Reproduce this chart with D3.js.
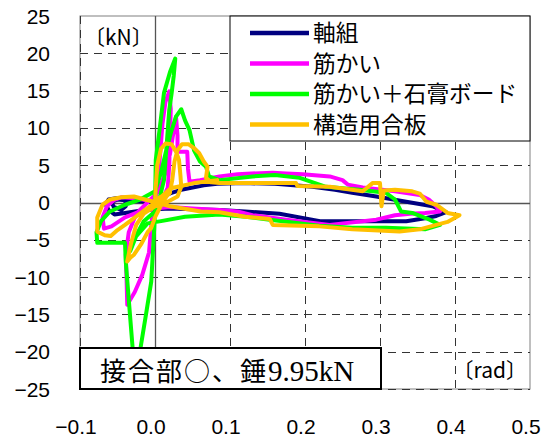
<!DOCTYPE html>
<html><head><meta charset="utf-8">
<script src="https://cdn.jsdelivr.net/npm/d3@7"></script>
<style>body{margin:0;background:#fff}</style>
</head><body><svg id="c" width="546" height="441"></svg>
<script>
// ---- data ----
const seriesNames = ["軸組", "筋かい", "筋かい＋石膏ボード", "構造用合板"];
const seriesColors = ["#000080", "#ff00ff", "#00ff00", "#ffc000"];
const xTicks = [-0.1, 0.0, 0.1, 0.2, 0.3, 0.4, 0.5];
const xTickLabels = ["−0.1", "0.0", "0.1", "0.2", "0.3", "0.4", "0.5"];
const yTicks = [-25, -20, -15, -10, -5, 0, 5, 10, 15, 20, 25];
const yTickLabels = ["−25", "−20", "−15", "−10", "−5", "0", "5", "10", "15", "20", "25"];
const yUnit = "〔kN〕";
const xUnit = "〔rad〕";
const noteJa = "接合部○、錘";
const noteNum = "9.95kN";

// [rad, kN]
const frameOnly = [
  [0,0],[0.005,0.4],[0.012,0.9],[0.022,1.3],[0.035,1.7],[0.05,2.0],[0.065,2.3],[0.083,2.5],[0.12,2.6],[0.16,2.5],
  [0.21,2.1],[0.24,1.7],[0.263,1.3],[0.295,0.8],[0.335,0.1],[0.37,-0.5],[0.388,-1.3],[0.375,-1.8],[0.36,-2.1],
  [0.335,-2.5],[0.3,-2.5],[0.22,-2.5],[0.166,-1.5],[0.12,-1.2],[0.086,-1.0],[0.05,-0.9],[0.02,-0.8],[0.0,-0.9],
  [-0.02,-1.1],[-0.04,-1.4],[-0.054,-1.6],[-0.062,-1.0],[-0.066,-0.2],[-0.062,0.4],[-0.05,0.6],[-0.04,0.5],
  [-0.039,-0.5],[-0.045,-1.0],[-0.055,-0.6],[-0.058,0.1],[-0.05,0.4],[-0.03,0.2],[-0.01,0.1],[0,0]
];
const brace = [
  [0,0],[0.002,1.5],[0.005,4],[0.008,8],[0.010,10.6],[0.014,13.5],[0.019,14.9],[0.021,12.5],[0.02,9],[0.019,5],
  [0.017,2],[0.01,0.5],[0.0,-0.5],[-0.004,-2],[-0.008,-6.7],[-0.017,-9.7],[-0.027,-12],[-0.037,-13.7],[-0.038,-10],
  [-0.039,-7],[-0.035,-4],[-0.025,-1.5],[-0.01,0],[0.005,1.5],[0.012,3.5],[0.02,6.5],[0.028,11.5],[0.03,9],
  [0.03,6.8],[0.043,6.8],[0.044,4.5],[0.046,2.8],[0.06,3.0],[0.086,3.5],[0.11,3.8],[0.157,4.0],[0.175,3.9],
  [0.197,3.8],[0.233,3.5],[0.25,3.0],[0.257,2.4],[0.277,2.0],[0.32,1.5],[0.353,1.0],[0.365,0.4],[0.375,-0.5],
  [0.38,-1.2],[0.36,-1.4],[0.34,-1.5],[0.32,-1.7],[0.295,-2.3],[0.233,-3.0],[0.175,-2.3],[0.13,-1.7],[0.11,-1.2],
  [0.086,-1.0],[0.05,-0.8],[0.02,-0.6],[0,-0.8],[-0.02,-1.2],[-0.04,-2.0],[-0.058,-3.2],[-0.068,-3.5],[-0.07,-2.0],
  [-0.064,-0.5],[-0.055,0.3],[-0.045,0.7],[-0.03,0.6],[-0.01,0.3],[0,0.2]
];
const braceGypsum = [
  [0,0],[0.0005,2.5],[0.001,5.7],[0.006,9.7],[0.012,14.7],[0.02,17.5],[0.027,19.3],[0.025,17],[0.022,14.5],
  [0.019,12.4],[0.015,7],[0.012,3],[0.006,0.5],[0,-1],[-0.001,-3.4],[-0.005,-10.6],[-0.012,-15],[-0.019,-19.3],
  [-0.022,-22],[-0.03,-22],[-0.03,-19.3],[-0.035,-13],[-0.039,-7.9],[-0.04,-5.4],[-0.077,-5.4],[-0.078,-4],
  [-0.072,-2.5],[-0.06,-1.2],[-0.04,-0.3],[-0.02,0.4],[0,1.5],[0.008,4],[0.015,7],[0.021,9.3],[0.028,11.5],
  [0.035,12.5],[0.04,11],[0.046,9.7],[0.052,7],[0.06,5.5],[0.068,4.8],[0.072,3.5],[0.086,3.0],[0.13,3.5],
  [0.16,3.7],[0.193,3.3],[0.228,2.1],[0.272,1.7],[0.308,1.3],[0.32,0.4],[0.328,-1.2],[0.343,-1.4],[0.366,-2.3],
  [0.38,-3.0],[0.36,-3.6],[0.308,-3.4],[0.263,-3.4],[0.219,-3.1],[0.153,-2.3],[0.121,-1.9],[0.086,-1.6],
  [0.04,-1.9],[0.008,-2.5],[-0.01,-2.8],[-0.025,-4.5],[-0.033,-6.5],[-0.028,-5],[-0.015,-2.5],[0,-1.2],[0.01,0]
];
const plywood = [
  [0,0],[0.005,0.6],[0.012,1.0],[0.02,1.3],[0.01,0.3],[0,-0.3],[0.001,2.1],[0.003,5],[0.008,7.2],[0.014,7.9],
  [0.022,7.8],[0.028,6.8],[0.032,5.7],[0.034,3.5],[0.035,2.1],[0.03,0.8],[0.015,0],[0,-0.5],[-0.015,-1.5],
  [-0.025,-3],[-0.032,-5.5],[-0.037,-7.9],[-0.033,-7.4],[-0.028,-7],[-0.018,-5.5],[-0.01,-4],[-0.005,-3.4],
  [0,-2],[0.01,0],[0.02,1.5],[0.023,3],[0.026,5.5],[0.03,7.0],[0.036,7.8],[0.045,7.8],[0.052,7.3],[0.059,6.6],
  [0.065,5.5],[0.07,4.8],[0.068,3.3],[0.075,2.7],[0.086,2.6],[0.12,2.6],[0.188,2.6],[0.19,2.2],[0.233,2.1],
  [0.277,1.5],[0.29,2.6],[0.3,2.6],[0.302,-0.5],[0.305,1.6],[0.32,1.7],[0.343,1.5],[0.353,1.2],[0.362,0.1],
  [0.375,-0.3],[0.39,-1.4],[0.406,-1.7],[0.39,-2.6],[0.375,-3.0],[0.353,-3.6],[0.326,-3.9],[0.263,-3.6],
  [0.219,-3.2],[0.157,-3.0],[0.153,-2.2],[0.12,-1.9],[0.086,-1.3],[0.061,-1.2],[0.02,-0.5],[-0.028,0.8],
  [-0.045,0.7],[-0.06,0.4],[-0.07,-0.3],[-0.077,-2],[-0.077,-3.9],[-0.067,-4.4],[-0.059,-4.5],[-0.05,-3.7],
  [-0.04,-3.0],[-0.02,-1.5],[0,0],[0.021,1.9],[0.052,2.6],[0.083,3.0]
];
const seriesData = [frameOnly, brace, braceGypsum, plywood];

// ---- drawing ----
const svg = d3.select("#c");
const x = d3.scaleLinear().domain([-0.1, 0.5]).range([80, 530]);
const y = d3.scaleLinear().domain([-25, 25]).range([389, 16]);
const [x0, x1] = x.range(), [y0, y1] = [y(25), y(-25)];

svg.append("defs").append("clipPath").attr("id", "clip")
  .append("rect").attr("x", x0).attr("y", y0).attr("width", x1 - x0).attr("height", y1 - y0);

svg.append("rect").attr("x", x0).attr("y", y0).attr("width", x1 - x0).attr("height", y1 - y0)
  .attr("fill", "#fff").attr("stroke", "#808080").attr("stroke-width", 1);

const grid = svg.append("g");
grid.selectAll("line.h").data(yTicks.filter(v => v !== 0 && v !== 25)).join("line")
  .attr("x1", x0).attr("x2", x1).attr("y1", d => Math.round(y(d)) + 0.5).attr("y2", d => Math.round(y(d)) + 0.5)
  .attr("stroke", "#333").attr("stroke-dasharray", "8,6");
grid.selectAll("line.v").data(xTicks.filter(v => v !== 0 && v !== 0.5)).join("line")
  .attr("x1", d => Math.round(x(d)) + 0.5).attr("x2", d => Math.round(x(d)) + 0.5).attr("y1", y0).attr("y2", y1)
  .attr("stroke", "#333").attr("stroke-dasharray", "8,6");
grid.append("line").attr("x1", x0).attr("x2", x1).attr("y1", Math.round(y(0)) + 0.5).attr("y2", Math.round(y(0)) + 0.5)
  .attr("stroke", "#555").attr("stroke-width", 1.3);
grid.append("line").attr("x1", Math.round(x(0)) + 0.5).attr("x2", Math.round(x(0)) + 0.5).attr("y1", y0).attr("y2", y1)
  .attr("stroke", "#555").attr("stroke-width", 1.3);

const line = d3.line().x(d => x(d[0])).y(d => y(d[1]));
svg.append("g").attr("clip-path", "url(#clip)").selectAll("path").data(seriesData).join("path")
  .attr("d", line).attr("fill", "none").attr("stroke", (d, i) => seriesColors[i])
  .attr("stroke-width", 4).attr("stroke-linejoin", "round").attr("stroke-linecap", "round");

// legend
const lg = svg.append("g");
lg.append("rect").attr("x", x(0.1)).attr("y", y0).attr("width", x1 - x(0.1)).attr("height", 125)
  .attr("fill", "#fff").attr("stroke", "#000").attr("stroke-width", 1);
const rows = lg.selectAll("g").data(seriesNames).join("g")
  .attr("transform", (d, i) => `translate(0,${33 + i * 30.5})`);
rows.append("line").attr("x1", 250).attr("x2", 309).attr("y1", 0).attr("y2", 0)
  .attr("stroke", (d, i) => seriesColors[i]).attr("stroke-width", 4.5);
rows.append("text").attr("x", 313).attr("y", 0).attr("dy", "0.36em").text(d => d)
  .attr("font-family", "Noto Sans CJK JP").attr("font-size", 22.7).attr("fill", "#000");

// annotation box
svg.append("rect").attr("x", x0).attr("y", 348).attr("width", 301).attr("height", y1 - 348)
  .attr("fill", "#fff").attr("stroke", "#000").attr("stroke-width", 2);
const nt = svg.append("text").attr("x", 100).attr("y", 381).attr("fill", "#000");
nt.append("tspan").text(noteJa).attr("font-family", "Noto Sans CJK JP").attr("font-size", 26)
  .attr("letter-spacing", 2);
nt.append("tspan").text(noteNum).attr("font-family", "Liberation Serif").attr("font-size", 29);

// units
svg.append("text").attr("x", 84).attr("y", 37).attr("dy", "0.36em").text(yUnit)
  .attr("font-family", "Noto Sans CJK JP").attr("font-size", 21);
svg.append("text").attr("x", 527).attr("y", 370).attr("dy", "0.36em").attr("text-anchor", "end").text(xUnit)
  .attr("font-family", "Noto Sans CJK JP").attr("font-size", 21);

// tick labels
svg.append("g").selectAll("text").data(yTicks).join("text")
  .attr("x", 50).attr("y", d => y(d)).attr("dy", "0.36em").attr("text-anchor", "end")
  .text((d, i) => yTickLabels[i]).attr("font-family", "Liberation Sans, Arial").attr("font-size", 21);
svg.append("g").selectAll("text").data(xTicks).join("text")
  .attr("x", d => x(d) - 4).attr("y", 426).attr("dy", "0.36em").attr("text-anchor", "middle")
  .text((d, i) => xTickLabels[i]).attr("font-family", "Liberation Sans, Arial").attr("font-size", 21);
</script></body></html>
